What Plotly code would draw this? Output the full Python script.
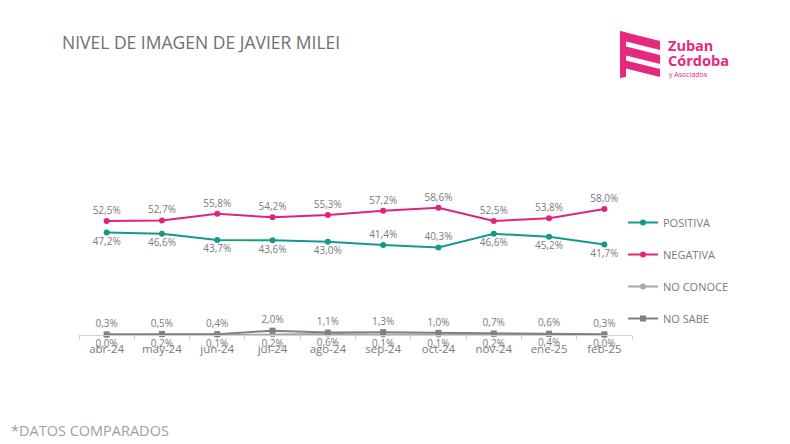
import plotly.graph_objects as go

months = ["abr-24", "may-24", "jun-24", "jul-24", "ago-24", "sep-24", "oct-24", "nov-24", "ene-25", "feb-25"]
positiva = [47.2, 46.6, 43.7, 43.6, 43.0, 41.4, 40.3, 46.6, 45.2, 41.7]
negativa = [52.5, 52.7, 55.8, 54.2, 55.3, 57.2, 58.6, 52.5, 53.8, 58.0]
no_conoce = [0.0, 0.2, 0.1, 0.2, 0.6, 0.1, 0.1, 0.2, 0.4, 0.0]
no_sabe = [0.3, 0.5, 0.4, 2.0, 1.1, 1.3, 1.0, 0.7, 0.6, 0.3]
positiva_pos = ["bottom center"] * 5 + ["top center"] * 2 + ["bottom center"] * 3

TEAL = "#139A8B"
PINK = "#E2237D"
GREY_D = "#808080"
GREY_L = "#A8A8A8"
TXT = "#7A7A7A"
FONT = "Open Sans"

def fmt(vals):
    return [f"{v:.1f}".replace(".", ",") + "%" for v in vals]

# page body has an 8px margin: work in page pixels, convert to figure
O = 8
W, H = 790 - O, 444 - O
L, R, T, B = 79, 632, 183, 335  # plot area in page pixels

def px(x):
    return (x - L) / (R - L)

def py(y):
    return (B - y) / (B - T)

fig = go.Figure()
common = dict(mode="lines+markers+text", cliponaxis=False)
fig.add_trace(go.Scatter(x=months, y=positiva, name="POSITIVA",
                         line=dict(color=TEAL, width=2), marker=dict(color=TEAL, size=6),
                         text=fmt(positiva), textposition=positiva_pos, legendgroup="a",
                         textfont=dict(color=TXT, size=10, family=FONT), **common))
fig.add_trace(go.Scatter(x=months, y=negativa, name="NEGATIVA",
                         line=dict(color=PINK, width=2), marker=dict(color=PINK, size=6),
                         text=fmt(negativa), textposition="top center", legendgroup="b",
                         textfont=dict(color=TXT, size=10, family=FONT), **common))
fig.add_trace(go.Scatter(x=months, y=no_conoce, name="NO CONOCE",
                         line=dict(color=GREY_L, width=2), marker=dict(color=GREY_L, size=6),
                         text=fmt(no_conoce), textposition="bottom center", legendgroup="c",
                         textfont=dict(color=TXT, size=10, family=FONT), **common))
fig.add_trace(go.Scatter(x=months, y=no_sabe, name="NO SABE",
                         line=dict(color=GREY_D, width=2), marker=dict(color=GREY_D, size=6, symbol="square"),
                         text=fmt(no_sabe), textposition="top center", legendgroup="d",
                         textfont=dict(color=TXT, size=10, family=FONT), **common))

# logo stripes
pink_logo = "#E6297E"
stripes = [
    [(620, 31), (660, 41), (660, 50), (620, 40)],
    [(620, 45), (660, 55), (660, 64), (620, 54)],
    [(620, 59), (660, 69), (660, 77), (620, 67)],
]
shapes = []
for s in stripes:
    path = "M " + " L ".join(f"{px(x)},{py(y)}" for x, y in s) + " Z"
    shapes.append(dict(type="path", path=path, xref="paper", yref="paper",
                       fillcolor=pink_logo, line=dict(width=0)))
bar = [(620, 31), (626, 32.5), (626, 77), (620, 78)]
shapes.append(dict(type="path", path="M " + " L ".join(f"{px(x)},{py(y)}" for x, y in bar) + " Z",
                   xref="paper", yref="paper", fillcolor=pink_logo, line=dict(width=0)))

annotations = [
    dict(text="Zuban", x=px(666), y=py(45), xref="paper", yref="paper", xanchor="left", yanchor="middle",
         showarrow=False, font=dict(family=FONT, size=14.5, color=pink_logo, weight="bold")),
    dict(text="Córdoba", x=px(666), y=py(60), xref="paper", yref="paper", xanchor="left", yanchor="middle",
         showarrow=False, font=dict(family=FONT, size=14.5, color=pink_logo, weight="bold")),
    dict(text="y Asociados", x=px(667), y=py(74), xref="paper", yref="paper", xanchor="left", yanchor="middle",
         showarrow=False, font=dict(family=FONT, size=7, color=pink_logo)),
    dict(text="*DATOS COMPARADOS", x=px(8.5), y=py(430), xref="paper", yref="paper", xanchor="left", yanchor="middle",
         showarrow=False, font=dict(family=FONT, size=14.5, color="#A0A0A0")),
]

fig.update_layout(
    width=W, height=H,
    margin=dict(l=L - O, r=W - (R - O), t=T - O, b=H - (B - O)),
    paper_bgcolor="white", plot_bgcolor="white",
    title=dict(text="NIVEL DE IMAGEN DE JAVIER MILEI", x=(62 - O) / W, y=1 - (43 - O) / H,
               xref="container", yref="container",
               xanchor="left", yanchor="middle", font=dict(family=FONT, size=17.5, color="#707070")),
    xaxis=dict(showgrid=False, showline=True, linecolor="#D0D0D0", linewidth=1, ticks="outside",
               tickson="boundaries", tickcolor="#D0D0D0", ticklen=4, range=[-0.5, 9.5],
               ticklabelstandoff=3,
               tickfont=dict(family=FONT, size=11.5, color=TXT), fixedrange=True),
    yaxis=dict(range=[0, 70], visible=False, fixedrange=True),
    legend=dict(x=px(623), y=py(208), xanchor="left", yanchor="top", tracegroupgap=13,
                traceorder="grouped", font=dict(family=FONT, size=11, color=TXT), bgcolor="rgba(0,0,0,0)"),
    shapes=shapes, annotations=annotations,
    font=dict(family=FONT, color=TXT),
)
fig.write_html("out.html")
